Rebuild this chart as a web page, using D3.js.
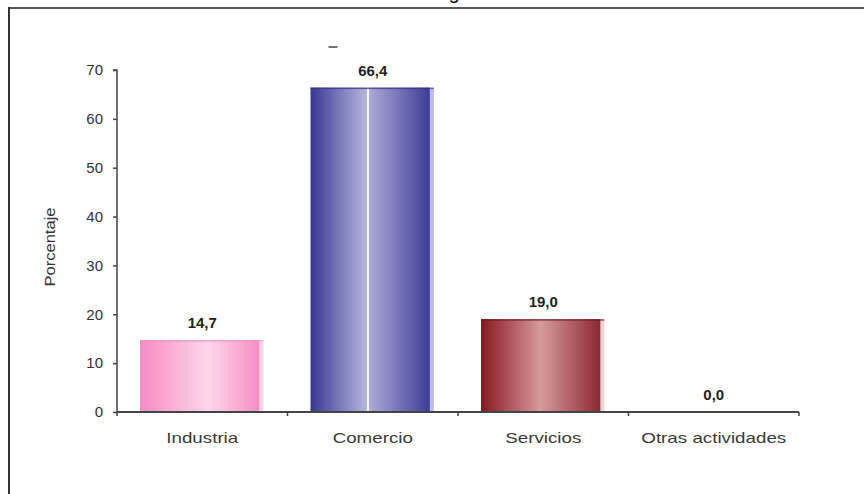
<!DOCTYPE html>
<html>
<head>
<meta charset="utf-8">
<script src="https://cdn.jsdelivr.net/npm/d3@7"></script>
<style>
  html, body { margin: 0; padding: 0; background: #fff; }
  svg { display: block; }
  text { font-family: Arial, "Liberation Sans", sans-serif; }
</style>
</head>
<body>
<svg id="chart" width="864" height="494"></svg>
<script>
// ---- data ----
const categories = ["Industria", "Comercio", "Servicios", "Otras actividades"];
const values = [14.7, 66.4, 19.0, 0.0];
const valueLabels = ["14,7", "66,4", "19,0", "0,0"];
const yTicks = [0, 10, 20, 30, 40, 50, 60, 70];
const yTitle = "Porcentaje";

// ---- styles per bar ----
const barStyles = [
  { stops: [[0, "#f68cc2"], [0.57, "#fdd6ea"], [1, "#f78fc4"]], side: "#fbd3e8", top: "#f48cc0" },
  { stops: [[0, "#383893"], [0.47, "#b6b6dc"], [0.47, "#f6f6fc"], [0.49, "#f6f6fc"], [0.49, "#aeabd8"], [1, "#3c3c94"]], side: "#bcbce2", top: "#2f2f85" },
  { stops: [[0, "#861820"], [0.5, "#d59b9d"], [1, "#8c2830"]], side: "#f0d2d2", top: "#6e1218" },
  { stops: [[0, "#cccccc"], [1, "#cccccc"]], side: "#eeeeee", top: "#999" }
];

const svg = d3.select("#chart");
const W = 864, H = 494;
const FONT = "Arial, 'Liberation Sans', sans-serif";

// frame (left and top lines of the picture border)
svg.append("line").attr("x1", 8).attr("x2", W).attr("y1", 8).attr("y2", 8)
  .attr("stroke", "#555").attr("stroke-width", 2);
svg.append("line").attr("x1", 9).attr("x2", 9).attr("y1", 7).attr("y2", H)
  .attr("stroke", "#333").attr("stroke-width", 2);

// cut-off title descender
svg.append("text").attr("x", 454).attr("y", -1).attr("text-anchor", "middle")
  .attr("font-size", 20).attr("fill", "#111").text("g");

// ---- scales ----
const x = d3.scaleBand().domain(categories).range([117, 799]).paddingInner(0).paddingOuter(0);
const y = d3.scaleLinear().domain([0, 70]).range([412, 70]);

const defs = svg.append("defs");
barStyles.forEach((s, i) => {
  const g = defs.append("linearGradient").attr("id", "grad" + i)
    .attr("x1", "0%").attr("x2", "100%").attr("y1", "0%").attr("y2", "0%");
  s.stops.forEach(st => g.append("stop").attr("offset", st[0]).attr("stop-color", st[1]));
});

const bw = x.bandwidth();
const barOffset = bw * 0.135;
const barW = bw * 0.70;
const sideW = 4;

const bars = svg.append("g");
categories.forEach((c, i) => {
  const v = values[i];
  if (v <= 0) return;
  const x0 = x(c) + barOffset;
  const yt = y(v);
  const h = y(0) - yt;
  bars.append("rect").attr("x", x0 + barW).attr("y", yt + 1).attr("width", sideW).attr("height", h - 1)
    .attr("fill", barStyles[i].side);
  bars.append("rect").attr("x", x0).attr("y", yt).attr("width", barW).attr("height", h)
    .attr("fill", "url(#grad" + i + ")");
  bars.append("rect").attr("x", x0).attr("y", yt).attr("width", barW + sideW).attr("height", 1.5)
    .attr("fill", barStyles[i].top).attr("opacity", 0.7);
});

// value labels
svg.append("g").selectAll("text").data(categories).join("text")
  .attr("x", (c) => x(c) + bw / 2)
  .attr("y", (c, i) => y(values[i]) - 12)
  .attr("text-anchor", "middle")
  .attr("font-size", 15).attr("font-weight", "bold").attr("fill", "#222")
  .text((c, i) => valueLabels[i]);

// small stray dash above Comercio
svg.append("line")
  .attr("x1", x("Comercio") + 41).attr("x2", x("Comercio") + 50)
  .attr("y1", 47).attr("y2", 47).attr("stroke", "#444").attr("stroke-width", 1.5);

// ---- y axis ----
const yAxis = d3.axisLeft(y).tickValues(yTicks).tickSize(4).tickPadding(10).tickFormat(d3.format("d"));
const gy = svg.append("g").attr("transform", "translate(117,0)").call(yAxis);
gy.select(".domain").attr("stroke", "#444").attr("stroke-width", 1.5).attr("d", `M-4,${y(70)}H0V${y(0)}`);
gy.selectAll(".tick line").attr("stroke", "#444").attr("stroke-width", 1.5);
gy.selectAll(".tick text").attr("font-size", 15).attr("fill", "#333").attr("font-family", FONT);

// ---- x axis ----
const xAxis = d3.axisBottom(x).tickSize(0).tickPadding(20);
const gx = svg.append("g").attr("transform", `translate(0,${y(0)})`).call(xAxis);
gx.select(".domain").attr("stroke", "#444").attr("stroke-width", 1.8).attr("d", `M117,0H799`);
gx.selectAll(".tick text").attr("font-size", 15).attr("fill", "#3a3a3a").attr("font-family", FONT)
  .each(function () {
    const w = this.getComputedTextLength();
    d3.select(this).attr("textLength", w * 1.25).attr("lengthAdjust", "spacingAndGlyphs");
  });

// boundary tick marks
const bounds = categories.map(c => x(c)).concat([x(categories[categories.length - 1]) + bw]);
gx.append("g").selectAll("line").data(bounds).join("line")
  .attr("x1", d => d).attr("x2", d => d).attr("y1", 0).attr("y2", 4)
  .attr("stroke", "#444").attr("stroke-width", 1.5);

// y title
svg.append("text")
  .attr("transform", `translate(55,${(y(0) + y(70)) / 2 + 6}) rotate(-90)`)
  .attr("text-anchor", "middle").attr("font-size", 14).attr("fill", "#333")
  .attr("textLength", 79).attr("lengthAdjust", "spacingAndGlyphs")
  .text(yTitle);
</script>
</body>
</html>
